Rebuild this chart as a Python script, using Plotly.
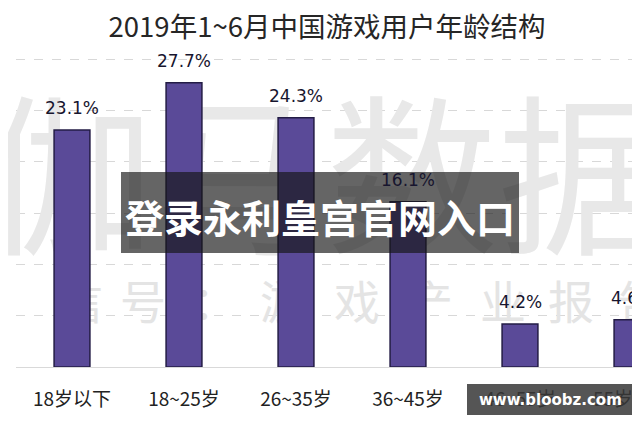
import plotly.graph_objects as go

# ---- data ----
categories = ["18岁以下", "18~25岁", "26~35岁", "36~45岁", "46~55岁", "55岁以上"]
shares = [23.1, 27.7, 24.3, 16.1, 4.2, 4.6]
title_text = "2019年1~6月中国游戏用户年龄结构"
watermark_big = "伽马数据"
watermark_small = list("微信号：游戏产业报告")
stamp_text = "登录永利皇宫官网入口"
site_text = "www.bloobz.com"

W, H = 640, 427
OFF = 8  # page body margin offset
L, R, T, B = 16 - OFF, 0, 49 - OFF, 60 + OFF


def px(x):
    return (x - OFF - L) / (W - L - R)


def py(y):
    return (H - B - (y - OFF)) / (H - T - B)


CJK = "Noto Sans CJK SC"

fig = go.Figure()

# background watermark (base axes in screen-pixel coordinates, beneath bars)
fig.add_trace(go.Scatter(
    x=[326], y=[198], mode="text", text=[watermark_big],
    textfont=dict(family=CJK, size=172, color="#e8e8e8"),
    cliponaxis=False, hoverinfo="skip", showlegend=False,
    xaxis="x", yaxis="y"))
small_x = [10, 80, 143, 215, 283, 357, 430, 503, 571, 640]
fig.add_trace(go.Scatter(
    x=small_x, y=[307] * len(small_x), mode="text", text=watermark_small,
    textfont=dict(family=CJK, size=46, color="#e4e4e4"),
    cliponaxis=False, hoverinfo="skip", showlegend=False,
    xaxis="x", yaxis="y"))

# bars
fig.add_trace(go.Bar(
    x=categories, y=shares, width=0.32,
    marker=dict(color="#5a4a98", line=dict(color="#231c45", width=1.5)),
    xaxis="x2", yaxis="y2", showlegend=False, hoverinfo="skip"))

annotations = []
for c, v in zip(categories, shares):
    annotations.append(dict(
        x=c, y=v, xref="x2", yref="y2", text=f"{v}%", showarrow=False,
        yanchor="bottom", yshift=10,
        font=dict(family="DejaVu Sans", size=17, color="#17152e")))

# overlay stamp
annotations.append(dict(
    x=px(320), y=py(216), xref="paper", yref="paper", text=f"<b>{stamp_text}</b>",
    showarrow=False, xanchor="center", yanchor="middle",
    font=dict(family=CJK, size=39, color="#ffffff")))
annotations.append(dict(
    x=px(550), y=py(400), xref="paper", yref="paper", text=f"<b>{site_text}</b>",
    showarrow=False, xanchor="center", yanchor="middle",
    font=dict(family="DejaVu Sans", size=15, color="#ffffff")))

shapes = [
    dict(type="rect", xref="paper", yref="paper",
         x0=px(121), x1=px(519), y0=py(253), y1=py(172),
         fillcolor="rgba(22,22,22,0.66)", line=dict(width=0), layer="above"),
    dict(type="rect", xref="paper", yref="paper",
         x0=px(467), x1=px(633), y0=py(415), y1=py(384),
         fillcolor="rgba(55,55,55,0.85)", line=dict(width=0), layer="above"),
]

plot_w = W - L - R
fig.update_layout(
    width=W, height=H,
    margin=dict(l=L, r=R, t=T, b=B, autoexpand=False),
    paper_bgcolor="white", plot_bgcolor="white",
    title=dict(text=title_text, x=(327 - OFF) / W, y=1 - (27 - OFF) / H,
               xanchor="center", yanchor="middle",
               font=dict(family=CJK, size=27.5, color="#262626")),
    xaxis=dict(range=[L + OFF, W - R + OFF], visible=False, fixedrange=True,
               automargin=False),
    yaxis=dict(range=[H - B + OFF, T + OFF], visible=False, fixedrange=True,
               automargin=False),
    xaxis2=dict(overlaying="x", anchor="y2", type="category",
                range=[-0.5, -0.5 + plot_w / 112], showline=True,
                linecolor="#d9d9d9", linewidth=1, ticks="outside", ticklen=15,
                automargin=False, tickcolor="rgba(0,0,0,0)", showgrid=False,
                tickfont=dict(family=CJK, size=19, color="#222222")),
    yaxis2=dict(overlaying="y", anchor="x2", range=[0, 31], dtick=5,
                showgrid=True, gridcolor="#d8d8d8", griddash="dash",
                gridwidth=1, showticklabels=False, zeroline=False,
                automargin=False),
    annotations=annotations,
    shapes=shapes,
    bargap=0.68,
)

fig.write_html("out.html")
